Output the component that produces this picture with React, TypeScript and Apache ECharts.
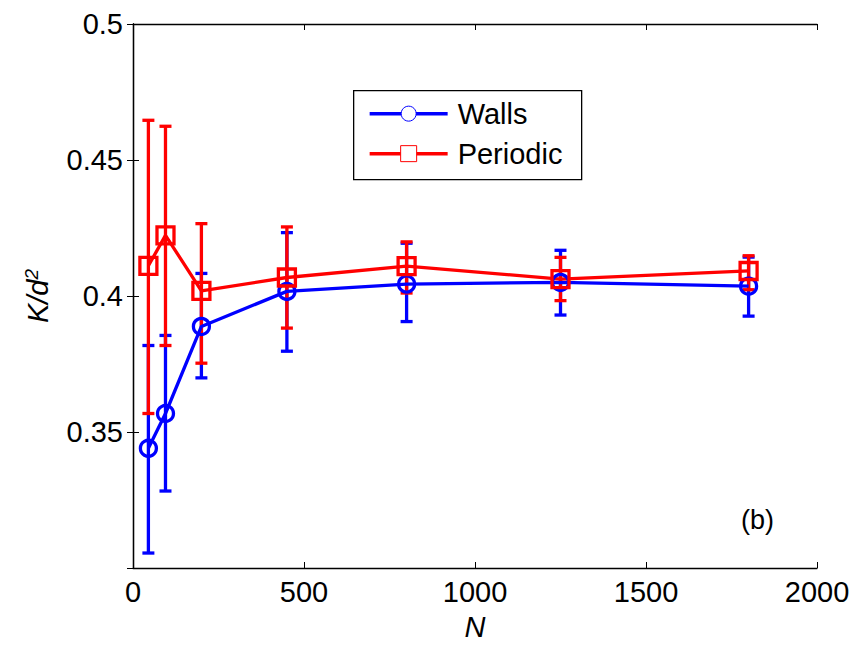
import React, { useEffect, useRef } from "react";
import * as echarts from "echarts";

const N = [45, 95, 200, 450, 800, 1250, 1800];
const wallsMean = [0.344, 0.3568, 0.3888, 0.4017, 0.4044, 0.405, 0.4036];
const wallsLow = [0.3055, 0.3283, 0.3699, 0.3797, 0.3906, 0.393, 0.3926];
const wallsHigh = [0.3818, 0.3855, 0.4083, 0.4233, 0.4194, 0.4168, 0.4143];
const periodicMean = [0.4111, 0.4223, 0.4019, 0.4068, 0.411, 0.4062, 0.4092];
const periodicLow = [0.3568, 0.3818, 0.3753, 0.3882, 0.4011, 0.3983, 0.4023];
const periodicHigh = [0.4646, 0.4624, 0.4266, 0.4254, 0.4199, 0.4142, 0.4148];
const yTickLabels: Record<string, string> = { "0.35": "0.35", "0.4": "0.4", "0.45": "0.45", "0.5": "0.5" };
const xTickLabels: Record<string, string> = { "0": "0", "500": "500", "1000": "1000", "1500": "1500", "2000": "2000" };

const BLUE = "#0000ff";
const RED = "#ff0000";
const FONT = "Liberation Sans, Arial, sans-serif";

function errorSeries(name: string, low: number[], high: number[], color: string) {
  return {
    type: "custom",
    name: name + "-err",
    data: N.map((n, i) => [n, low[i], high[i]]),
    encode: { x: 0, y: [1, 2] },
    renderItem: (_p: any, api: any) => {
      const x = api.value(0);
      const lo = api.coord([x, api.value(1)]);
      const hi = api.coord([x, api.value(2)]);
      const w = 6;
      const st = { stroke: color, lineWidth: 3.3 };
      return {
        type: "group",
        children: [
          { type: "line", shape: { x1: lo[0], y1: lo[1], x2: hi[0], y2: hi[1] }, style: st },
          { type: "line", shape: { x1: lo[0] - w, y1: lo[1], x2: lo[0] + w, y2: lo[1] }, style: st },
          { type: "line", shape: { x1: hi[0] - w, y1: hi[1], x2: hi[0] + w, y2: hi[1] }, style: st },
        ],
      };
    },
    silent: true,
  };
}

function lineSeries(name: string, mean: number[], color: string, symbol: string, size: number) {
  return {
    type: "line",
    name,
    data: N.map((n, i) => [n, mean[i]]),
    symbol,
    symbolSize: size,
    showAllSymbol: true,
    lineStyle: { color, width: 3.3 },
    itemStyle: { color: "transparent", borderColor: color, borderWidth: 3.3 },
  };
}

export default function App() {
  const ref = useRef<HTMLDivElement>(null);
  useEffect(() => {
    if (!ref.current) return;
    const chart = echarts.init(ref.current, undefined, { renderer: "svg" });
    const axisLine = { show: true, lineStyle: { color: "#000", width: 1.3 } };
    const tick = { show: true, inside: true, length: 6, lineStyle: { color: "#000", width: 1 } };
    const labelStyle = { color: "#000", fontFamily: FONT, fontSize: 29 };
    chart.setOption({
      animation: false,
      backgroundColor: "#fff",
      grid: { left: 133, right: 39, top: 24, bottom: 76, containLabel: false },
      xAxis: [
        {
          type: "value",
          min: 0,
          max: 2000,
          interval: 500,
          axisLine,
          axisTick: tick,
          splitLine: { show: false },
          axisLabel: { ...labelStyle, margin: 9, formatter: (v: number) => xTickLabels[String(v)] ?? "" },
          name: "N",
          nameLocation: "middle",
          nameGap: 44,
          nameTextStyle: { ...labelStyle, fontStyle: "italic" },
        },
        {
          type: "value",
          position: "top",
          min: 0,
          max: 2000,
          interval: 500,
          axisLine,
          axisTick: tick,
          axisLabel: { show: false },
          splitLine: { show: false },
        },
      ],
      yAxis: [
        {
          type: "value",
          min: 0.3,
          max: 0.5,
          interval: 0.05,
          axisLine,
          axisTick: tick,
          splitLine: { show: false },
          axisLabel: {
            ...labelStyle,
            margin: 10,
            formatter: (v: number) => yTickLabels[String(Math.round(v * 100) / 100)] ?? "",
          },
          name: "{a|K/d}{s|2}",
          nameLocation: "middle",
          nameGap: 80,
          nameRotate: 90,
          nameTextStyle: {
            rich: {
              a: { fontFamily: FONT, fontSize: 29, fontStyle: "italic", color: "#000" },
              s: { fontFamily: FONT, fontSize: 19, fontStyle: "italic", color: "#000", verticalAlign: "top", padding: [0, 0, 12, 0] },
            },
          },
        },
        {
          type: "value",
          position: "right",
          min: 0.3,
          max: 0.5,
          interval: 0.05,
          axisLine,
          axisTick: tick,
          axisLabel: { show: false },
          splitLine: { show: false },
        },
      ],
      series: [
        errorSeries("Walls", wallsLow, wallsHigh, BLUE),
        lineSeries("Walls", wallsMean, BLUE, "circle", 16),
        errorSeries("Periodic", periodicLow, periodicHigh, RED),
        lineSeries("Periodic", periodicMean, RED, "rect", 17),
      ],
      graphic: [
        {
          type: "group",
          left: 353,
          top: 90,
          children: [
            { type: "rect", shape: { x: 0, y: 0, width: 228, height: 89 }, style: { fill: "#fff", stroke: "#000", lineWidth: 1.3 } },
            { type: "line", shape: { x1: 16, y1: 23, x2: 94, y2: 23 }, style: { stroke: BLUE, lineWidth: 3.5 } },
            { type: "circle", shape: { cx: 55, cy: 23, r: 7.5 }, style: { fill: "#fff", stroke: BLUE, lineWidth: 1 } },
            { type: "line", shape: { x1: 16, y1: 63, x2: 94, y2: 63 }, style: { stroke: RED, lineWidth: 3.5 } },
            { type: "rect", shape: { x: 47, y: 55, width: 16, height: 16 }, style: { fill: "#fff", stroke: RED, lineWidth: 1 } },
            { type: "text", x: 104, y: 23, style: { text: "Walls", fontFamily: FONT, fontSize: 29, fill: "#000", verticalAlign: "middle" } },
            { type: "text", x: 104, y: 63, style: { text: "Periodic", fontFamily: FONT, fontSize: 29, fill: "#000", verticalAlign: "middle" } },
          ],
        },
        {
          type: "text",
          left: 741,
          top: 506,
          style: { text: "(b)", fontFamily: FONT, fontSize: 27, fill: "#000" },
        },
      ],
    });
    return () => chart.dispose();
  }, []);
  return <div ref={ref} style={{ width: 856, height: 646, position: "absolute", left: 0, top: 0 }} />;
}
